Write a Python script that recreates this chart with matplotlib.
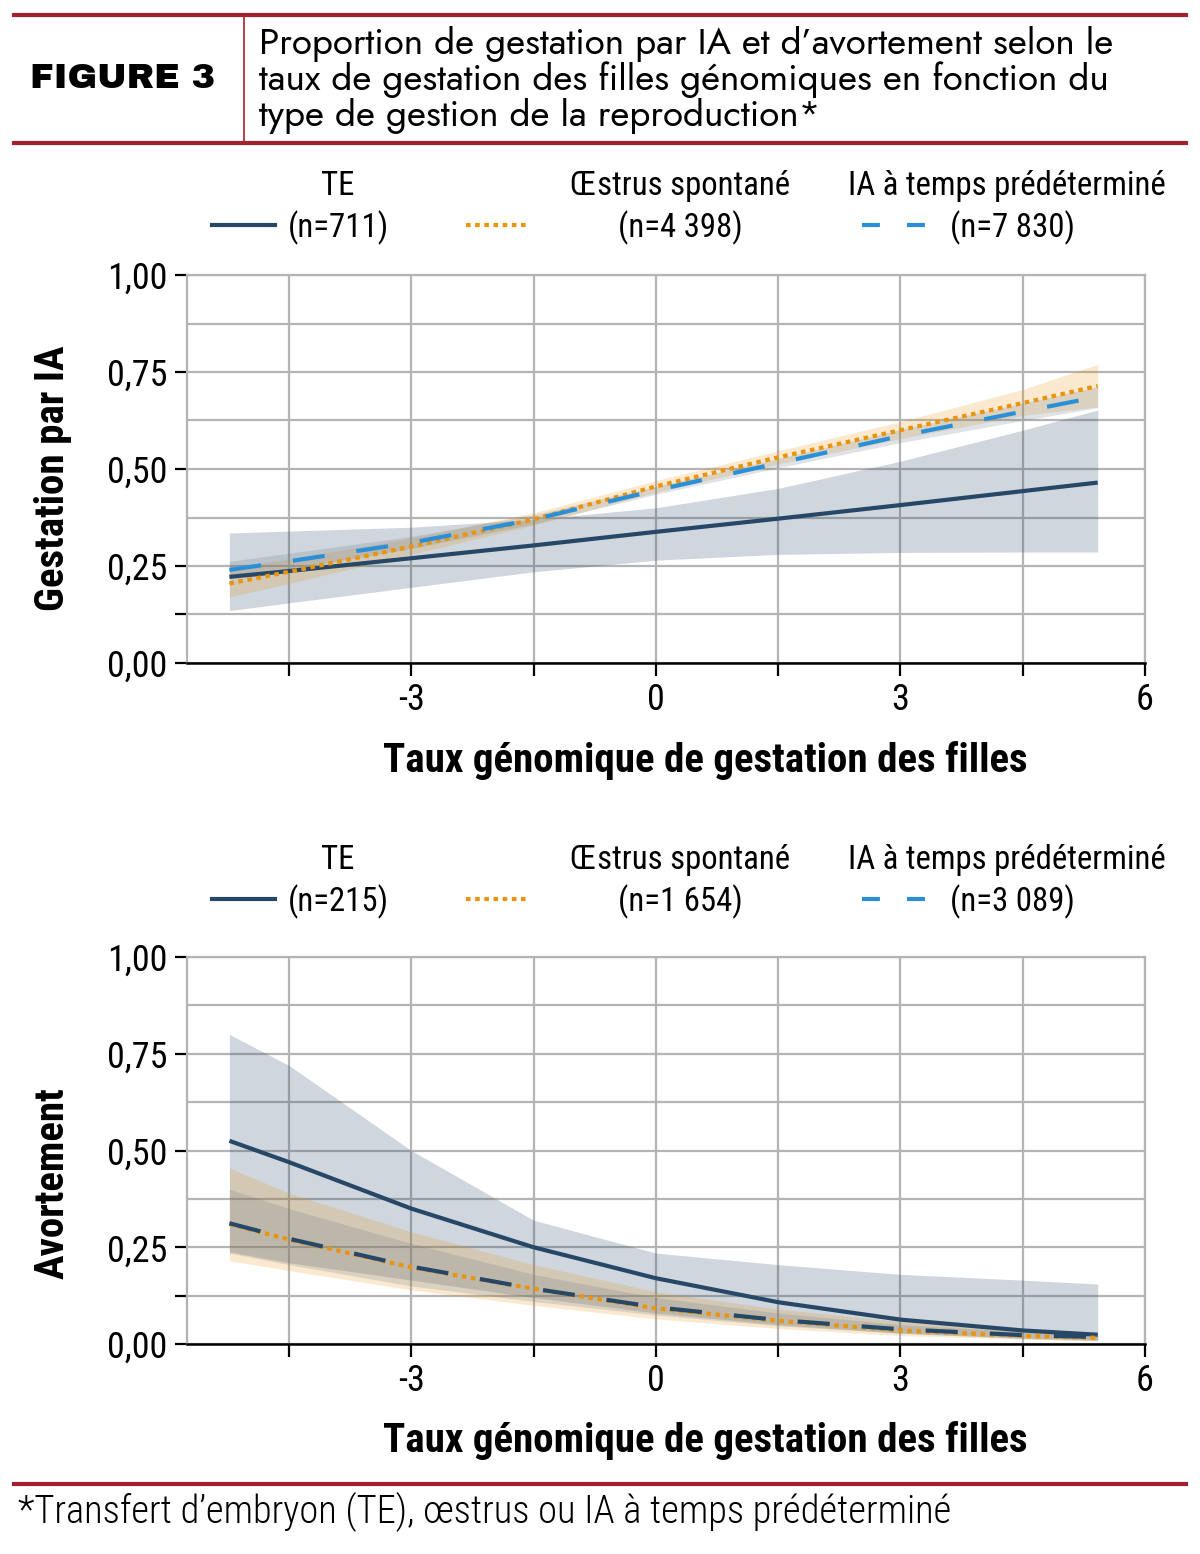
import matplotlib
matplotlib.use('Agg')
import matplotlib.pyplot as plt
from matplotlib.lines import Line2D
import numpy as np

# ---- data ----
x = [-5.23, -4.5, -3, -1.5, 0, 1.5, 3, 4.5, 5.42]

# Gestation par IA
gest_te = [0.222, 0.237, 0.270, 0.303, 0.338, 0.372, 0.407, 0.443, 0.465]
gest_te_lo = [0.135, 0.155, 0.195, 0.235, 0.265, 0.280, 0.285, 0.286, 0.286]
gest_te_hi = [0.335, 0.340, 0.350, 0.370, 0.400, 0.450, 0.520, 0.600, 0.652]
gest_oe = [0.205, 0.235, 0.300, 0.370, 0.455, 0.530, 0.600, 0.670, 0.714]
gest_oe_lo = [0.170, 0.205, 0.280, 0.355, 0.440, 0.513, 0.578, 0.638, 0.660]
gest_oe_hi = [0.245, 0.268, 0.322, 0.387, 0.470, 0.547, 0.622, 0.705, 0.770]
gest_ia = [0.240, 0.262, 0.310, 0.370, 0.445, 0.515, 0.585, 0.648, 0.686]
gest_ia_lo = [0.218, 0.242, 0.295, 0.358, 0.435, 0.503, 0.568, 0.625, 0.658]
gest_ia_hi = [0.262, 0.283, 0.326, 0.382, 0.455, 0.527, 0.602, 0.670, 0.712]

# Avortement
avort_te = [0.525, 0.470, 0.350, 0.250, 0.170, 0.108, 0.063, 0.035, 0.024]
avort_te_lo = [0.238, 0.210, 0.165, 0.120, 0.080, 0.050, 0.028, 0.014, 0.009]
avort_te_hi = [0.800, 0.720, 0.500, 0.320, 0.235, 0.205, 0.180, 0.165, 0.155]
avort_oe = [0.310, 0.270, 0.198, 0.143, 0.092, 0.060, 0.035, 0.021, 0.016]
avort_oe_lo = [0.215, 0.190, 0.140, 0.100, 0.065, 0.040, 0.022, 0.012, 0.008]
avort_oe_hi = [0.455, 0.390, 0.290, 0.205, 0.135, 0.090, 0.058, 0.037, 0.028]
avort_ia = [0.312, 0.272, 0.200, 0.143, 0.095, 0.062, 0.038, 0.023, 0.018]
avort_ia_lo = [0.235, 0.205, 0.150, 0.110, 0.075, 0.047, 0.028, 0.016, 0.011]
avort_ia_hi = [0.400, 0.350, 0.260, 0.180, 0.120, 0.080, 0.050, 0.032, 0.025]

legend_top = ['(n=711)', '(n=4 398)', '(n=7 830)']
legend_bot = ['(n=215)', '(n=1 654)', '(n=3 089)']
groups = ['TE', 'Œstrus spontané', 'IA à temps prédéterminé']

NAVY = '#274766'
ORANGE = '#e8940f'
BLUE = '#2b8fd8'
GRID = '#b4b4b4'
RED = '#a3202e'

NARROW = ['Roboto Condensed', 'Archivo Narrow', 'PT Sans Narrow', 'DejaVu Sans']
HEAD = ['Jost', 'Lato', 'DejaVu Sans']
HEAVY = ['Archivo Black', 'Lato', 'DejaVu Sans']
plt.rcParams['font.family'] = NARROW

W, H = 1200, 1554
fig = plt.figure(figsize=(12, 15.54), dpi=100)


def fx(px):
    return px / W


def fy(py):
    return 1 - py / H


# ---- header ----
fig.add_artist(Line2D([fx(14), fx(1186)], [fy(15), fy(15)], color=RED, lw=3))
fig.add_artist(Line2D([fx(14), fx(1186)], [fy(143), fy(143)], color=RED, lw=3))
fig.add_artist(Line2D([fx(244), fx(244)], [fy(17), fy(141)], color=RED, lw=1.2))
fig.text(fx(123), fy(78), 'FIGURE 3', family=HEAVY,
         fontweight='heavy', fontsize=25.5, ha='center', va='center')
fig.text(fx(259), fy(80),
         "Proportion de gestation par IA et d’avortement selon le\n"
         "taux de gestation des filles génomiques en fonction du\n"
         "type de gestion de la reproduction*",
         family=HEAD, fontsize=26.5, ha='left', va='center',
         linespacing=1.0)

# footer
fig.add_artist(Line2D([fx(14), fx(1186)], [fy(1484), fy(1484)], color=RED, lw=3))
fig.text(fx(18), fy(1512), '*Transfert d’embryon (TE), œstrus ou IA à temps prédéterminé',
         fontsize=27.7, fontweight='light', ha='left', va='center')


def panel(top_px, bot_px, te, te_lo, te_hi, oe, oe_lo, oe_hi, ia, ia_lo, ia_hi,
          ylabel, ylabel_y, ns, leg_y, ia_color):
    ax = fig.add_axes([fx(187), fy(bot_px), fx(1145) - fx(187), fy(top_px) - fy(bot_px)])
    ax.fill_between(x, te_lo, te_hi, color=NAVY, alpha=0.22, lw=0, zorder=2)
    ax.fill_between(x, oe_lo, oe_hi, color=ORANGE, alpha=0.2, lw=0, zorder=2)
    ax.fill_between(x, ia_lo, ia_hi, color='#6f7f8f', alpha=0.22, lw=0, zorder=2)
    ax.plot(x, te, color=NAVY, lw=3, zorder=4, solid_capstyle='butt')
    ax.plot(x, oe, color=ORANGE, lw=3, ls=(0, (1.1, 1.1)), zorder=4)
    ax.plot(x, ia, color=ia_color, lw=3, ls=(0, (7.7, 7.7)), zorder=5)

    ax.set_xlim(-5.75, 6)
    ax.set_ylim(0, 1)
    xt = np.arange(-4.5, 6.1, 1.5)
    ax.set_xticks(xt)
    ax.set_xticklabels(['', '-3', '', '0', '', '3', '', '6'])
    ax.set_yticks([0, 0.125, 0.25, 0.5, 0.75, 1.0])
    ax.set_yticklabels(['0,00', '', '0,25', '0,50', '0,75', '1,00'])
    ax.set_yticks([0.375, 0.625, 0.875], minor=True)
    ax.tick_params(which='major', direction='out', length=9, width=1.6,
                   color='black', labelsize=26, pad=5)
    ax.tick_params(which='minor', length=0)
    ax.grid(True, which='both', color=GRID, lw=1.6, zorder=0)
    ax.set_axisbelow(True)
    for s in ['left', 'top', 'right']:
        ax.spines[s].set_color(GRID)
        ax.spines[s].set_linewidth(1.6)
    ax.spines['bottom'].set_color('black')
    ax.spines['bottom'].set_linewidth(1.8)

    fig.text(fx(705), fy(bot_px + 97), 'Taux génomique de gestation des filles',
             fontsize=29.5, fontweight='bold', ha='center', va='center')
    fig.text(fx(53), fy(ylabel_y), ylabel, fontsize=29.5, fontweight='bold',
             rotation=90, ha='center', va='center')

    # legend (keys follow the plotted line styles; IA key is light blue in both)
    y1, y2 = fy(leg_y), fy(leg_y + 42)
    yl = fy(leg_y + 39)
    keys = [(dict(color=NAVY, ls='-'), 212, 275, 338, 338),
            (dict(color=ORANGE, ls=(0, (1.1, 1.1))), 466, 528, 680, 680),
            (dict(color=BLUE, ls=(0, (4.3, 6.5))), 862, 925, 1007, 1012)]
    for (kw, xa, xb, cx1, cx2), g, n in zip(keys, groups, ns):
        fig.add_artist(Line2D([fx(xa), fx(xb)], [yl, yl], lw=3, **kw))
        fig.text(fx(cx1), y1, g, fontsize=23.6, ha='center', va='center')
        fig.text(fx(cx2), y2, n, fontsize=23.6, ha='center', va='center')
    return ax


panel(275, 663, gest_te, gest_te_lo, gest_te_hi, gest_oe, gest_oe_lo, gest_oe_hi,
      gest_ia, gest_ia_lo, gest_ia_hi, 'Gestation par IA', 478, legend_top, 186, BLUE)
panel(957, 1344, avort_te, avort_te_lo, avort_te_hi, avort_oe, avort_oe_lo, avort_oe_hi,
      avort_ia, avort_ia_lo, avort_ia_hi, 'Avortement', 1183, legend_bot, 860, NAVY)

fig.savefig('out.png', dpi=100)
